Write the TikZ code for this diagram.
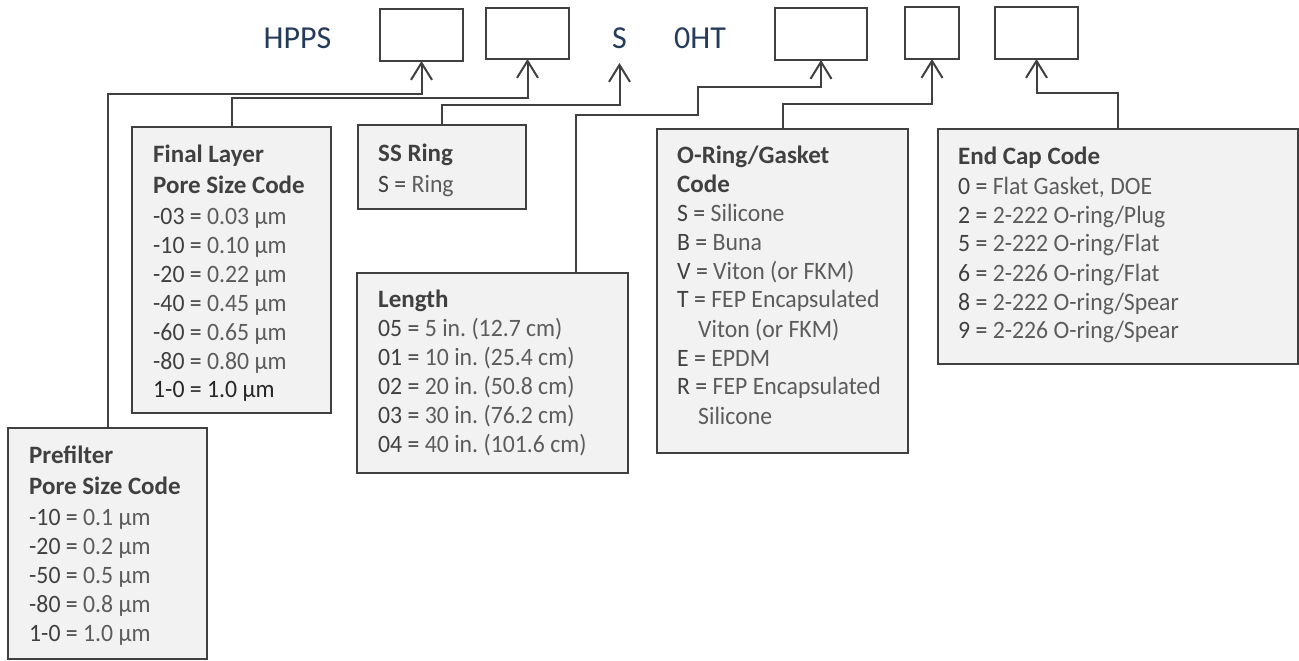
\documentclass[tikz,border=0pt]{standalone}
\usepackage{fontspec}
\setmainfont{Carlito}
\newfontfamily\bodyfam{Carlito}[FakeStretch=0.95]
\newfontfamily\headfam{Carlito}
\usetikzlibrary{arrows.meta}
\definecolor{linec}{HTML}{404040}
\definecolor{boxf}{HTML}{F2F2F2}
\definecolor{navyc}{HTML}{243B5C}
\definecolor{darkc}{HTML}{404040}
\definecolor{lightc}{HTML}{5C5C5C}
\definecolor{blackc}{HTML}{262626}
\newcommand{\hd}[1]{{\headfam\bfseries\color{darkc}#1}}
\newcommand{\cd}[1]{{\color{darkc}#1}}
\frenchspacing
\begin{document}
\begin{tikzpicture}[x=1pt,y=-1pt,
  conn/.style={draw=linec, line width=2pt,
    -{Straight Barb[length=17pt,width=21pt,line width=2pt]}},
  slot/.style={draw=linec, line width=2pt, fill=white, anchor=north west, inner sep=0pt, outer sep=0pt},
  codebox/.style={draw=linec, line width=2pt, fill=boxf, anchor=north west, inner sep=0pt, outer sep=0pt},
  boxtext/.style={anchor=base west, align=left, inner sep=0pt, text width=330pt,
    font=\bodyfam\fontsize{25}{29}\selectfont, text=lightc,
    execute at begin node={\spaceskip=0pt\xspaceskip=0pt\relax}},
  partno/.style={anchor=base, inner sep=0pt, text=navyc, font=\fontsize{32}{38}\selectfont}]
\useasboundingbox (0,0) rectangle (1299,661);

% part number line
\node[partno] (hpps) at (297.5,49) {HPPS};
\node[slot, minimum width=83pt, minimum height=52pt] (b1) at (380,9) {};
\node[slot, minimum width=83pt, minimum height=51pt] (b2) at (486,8) {};
\node[partno] (stext) at (619.5,49) {S};
\coordinate (stip) at ([yshift=-14pt]stext.base);
\node[partno] (oht) at (700,49) {0HT};
\node[slot, minimum width=92pt, minimum height=52pt] (b3) at (775,8) {};
\node[slot, minimum width=54pt, minimum height=52pt] (b4) at (905,7) {};
\node[slot, minimum width=83pt, minimum height=52pt] (b5) at (995,7) {};

% code boxes
\node[codebox, minimum width=199pt, minimum height=286pt] (fl) at (132,127) {};
\node[boxtext] (fltext) at (153,162) {\hd{Final Layer}\\[2pt]\hd{Pore Size Code}\\[2pt]
  \cd{-03 =} 0.03 µm\\ \cd{-10 =} 0.10 µm\\ \cd{-20 =} 0.22 µm\\ \cd{-40 =} 0.45 µm\\
  \cd{-60 =} 0.65 µm\\ \cd{-80 =} 0.80 µm\\ {\color{blackc}1-0 = 1.0 µm}};

\node[codebox, minimum width=168pt, minimum height=84pt] (ss) at (358,125) {};
\node[boxtext] (sstext) at (378,161) {\hd{SS Ring}\\[2pt]\cd{S =} Ring};

\node[codebox, minimum width=271pt, minimum height=200pt] (len) at (357,273) {};
\coordinate (lenj) at ([xshift=83.5pt]len.north);
\node[boxtext] (lentext) at (378,307) {\hd{Length}\\
  \cd{05 =} 5 in. (12.7 cm)\\ \cd{01 =} 10 in. (25.4 cm)\\ \cd{02 =} 20 in. (50.8 cm)\\
  \cd{03 =} 30 in. (76.2 cm)\\ \cd{04 =} 40 in. (101.6 cm)};

\node[codebox, minimum width=251pt, minimum height=324pt] (oring) at (657,129) {};
\node[boxtext] (oringtext) at (677,163) {\hd{O-Ring/Gasket}\\\hd{Code}\\
  \cd{S =} Silicone\\ \cd{B =} Buna\\ \cd{V =} Viton (or FKM)\\ \cd{T =} FEP Encapsulated\\
  \hspace*{21pt}Viton (or FKM)\\ \cd{E =} EPDM\\ \cd{R =} FEP Encapsulated\\ \hspace*{21pt}Silicone};

\node[codebox, minimum width=360pt, minimum height=235pt] (endcap) at (938,129) {};
\node[boxtext] (endcaptext) at (958,164) {\hd{End Cap Code}\\[1pt]
  \cd{0 =} Flat Gasket, DOE\\ \cd{2 =} 2-222 O-ring/Plug\\ \cd{5 =} 2-222 O-ring/Flat\\
  \cd{6 =} 2-226 O-ring/Flat\\ \cd{8 =} 2-222 O-ring/Spear\\ \cd{9 =} 2-226 O-ring/Spear};

\node[codebox, minimum width=199pt, minimum height=231pt] (pre) at (8,428) {};
\node[boxtext] (pretext) at (29,463) {\hd{Prefilter}\\[2pt]\hd{Pore Size Code}\\[2pt]
  \cd{-10 =} 0.1 µm\\ \cd{-20 =} 0.2 µm\\ \cd{-50 =} 0.5 µm\\ \cd{-80 =} 0.8 µm\\ \cd{1-0 =} 1.0 µm};

% connectors
\draw[conn] (pre.north) -- (pre.north |- 0,94) -| (b1.south);
\draw[conn] (fl.north) -- (fl.north |- 0,98) -| (b2.south);
\draw[conn] (ss.north) -- (ss.north |- 0,105) -| (stip);
\draw[conn] (lenj) |- (698,115) |- (b3.south |- 0,87) -- (b3.south);
\draw[conn] (oring.north) -- (oring.north |- 0,104) -| (b4.south);
\draw[conn] (endcap.north) -- (endcap.north |- 0,93) -| (b5.south);
\end{tikzpicture}
\end{document}
